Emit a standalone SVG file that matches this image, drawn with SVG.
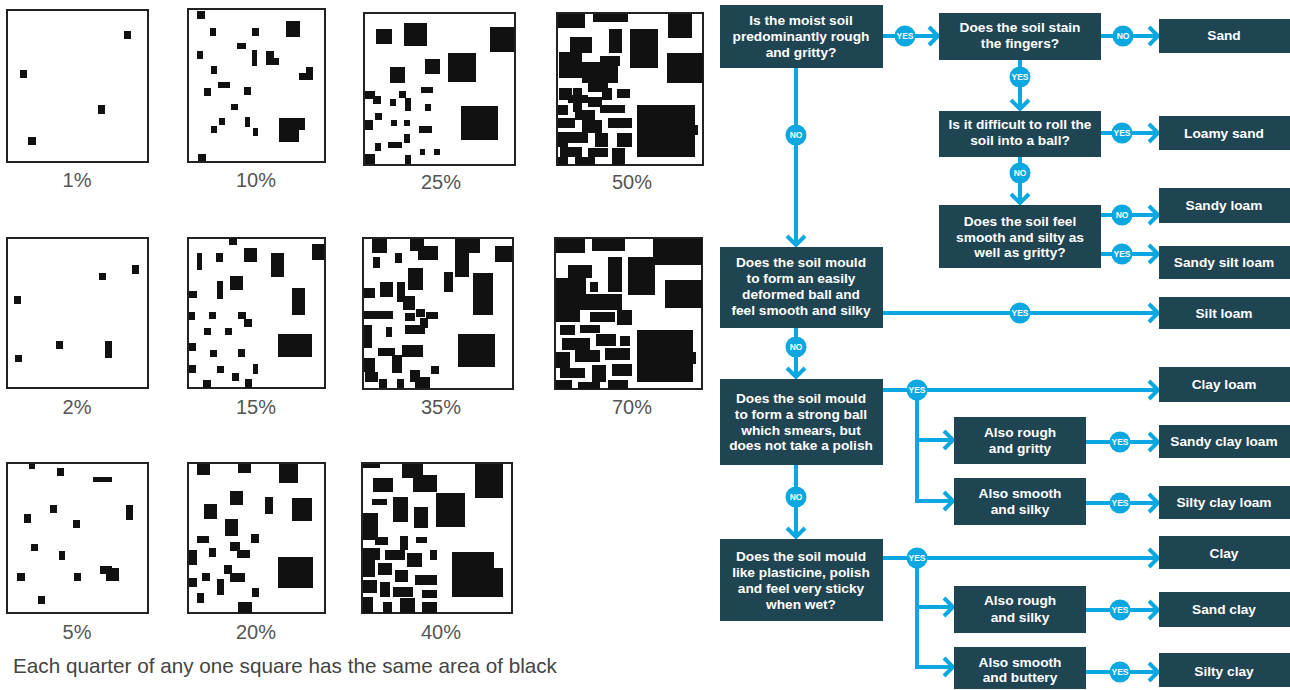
<svg xmlns="http://www.w3.org/2000/svg" width="1290" height="690" viewBox="0 0 1290 690">
<defs>
<style>
.sq{fill:#fff;stroke:#222;stroke-width:2}
.b rect{fill:#111}
.pct{font-family:"Liberation Sans",Arial,sans-serif;font-size:20px;fill:#555;text-anchor:middle}
.cap{font-family:"Liberation Sans",Arial,sans-serif;font-size:20.7px;fill:#444}
.box{fill:#1f4452}
.t{font-family:"Liberation Sans",Arial,sans-serif;font-weight:bold;font-size:13.7px;fill:#fff;text-anchor:middle}
.ln{fill:none;stroke:#0aa7e0;stroke-width:4}
.c{fill:#0aa7e0}
.ct{font-family:"Liberation Sans",Arial,sans-serif;font-weight:bold;font-size:8.5px;fill:#fff;text-anchor:middle}
</style>
<marker id="ah" markerUnits="userSpaceOnUse" markerWidth="20" markerHeight="28" viewBox="-14 -14 20 28" refX="0" refY="0" orient="auto" overflow="visible">
<path d="M-10,-9 L-1,0 L-10,9" fill="none" stroke="#0aa7e0" stroke-width="4"/>
</marker>
</defs>
<rect width="1290" height="690" fill="#fff"/>

<!-- Left: percentage charts -->
<g id="chart">
<g id="sq1"><rect class="sq" x="7" y="10" width="141" height="152"/>
<g class="b"><rect x="124" y="31" width="7" height="8"/><rect x="20" y="70" width="7" height="8"/><rect x="98" y="105" width="7" height="9"/><rect x="28" y="137" width="8" height="8"/></g>
<text class="pct" x="77" y="187">1%</text></g>

<g id="sq2"><rect class="sq" x="188" y="9" width="137" height="153"/>
<g class="b"><rect x="197" y="11" width="8" height="8"/><rect x="210" y="28" width="6" height="8"/><rect x="252" y="28" width="7" height="8"/><rect x="286" y="21" width="14" height="16"/><rect x="237" y="43" width="9" height="6"/><rect x="197" y="51" width="6" height="8"/><rect x="252" y="50" width="5" height="16"/><rect x="266" y="51" width="8" height="14"/><rect x="266" y="58" width="13" height="7"/><rect x="306" y="67" width="7" height="13"/><rect x="299" y="73" width="14" height="7"/><rect x="211" y="66" width="6" height="8"/><rect x="218" y="82" width="12" height="6"/><rect x="204" y="88" width="7" height="8"/><rect x="244" y="87" width="7" height="8"/><rect x="231" y="104" width="7" height="6"/><rect x="219" y="118" width="6" height="7"/><rect x="211" y="126" width="6" height="7"/><rect x="245" y="117" width="5" height="10"/><rect x="253" y="128" width="5" height="8"/><rect x="279" y="118" width="26" height="12"/><rect x="279" y="118" width="20" height="24"/><rect x="198" y="154" width="8" height="7"/></g>
<text class="pct" x="256" y="187">10%</text></g>

<g id="sq3"><rect class="sq" x="364" y="13" width="151" height="152"/>
<g class="b"><rect x="376" y="29" width="16" height="15"/><rect x="404" y="23" width="23" height="23"/><rect x="490" y="27" width="24" height="25"/><rect x="390" y="67" width="15" height="16"/><rect x="425" y="59" width="15" height="15"/><rect x="448" y="53" width="28" height="29"/><rect x="461" y="106" width="37" height="34"/><rect x="365" y="91" width="10" height="8"/><rect x="373" y="96" width="8" height="8"/><rect x="390" y="99" width="6" height="7"/><rect x="399" y="91" width="7" height="7"/><rect x="405" y="98" width="6" height="13"/><rect x="421" y="87" width="12" height="6"/><rect x="425" y="104" width="6" height="7"/><rect x="365" y="120" width="8" height="10"/><rect x="375" y="113" width="7" height="7"/><rect x="391" y="120" width="6" height="6"/><rect x="404" y="120" width="6" height="6"/><rect x="419" y="126" width="13" height="7"/><rect x="388" y="142" width="14" height="6"/><rect x="404" y="134" width="6" height="9"/><rect x="375" y="143" width="6" height="8"/><rect x="365" y="154" width="10" height="10"/><rect x="405" y="155" width="6" height="9"/><rect x="420" y="149" width="5" height="6"/><rect x="434" y="149" width="6" height="6"/></g>
<text class="pct" x="441" y="189">25%</text></g>

<g id="sq4"><rect class="sq" x="557" y="13" width="146" height="152"/>
<g class="b"><rect x="558" y="14" width="27" height="14"/><rect x="593" y="14" width="35" height="8"/><rect x="668" y="14" width="24" height="24"/><rect x="570" y="37" width="22" height="16"/><rect x="609" y="29" width="13" height="24"/><rect x="630" y="29" width="28" height="39"/><rect x="667" y="53" width="36" height="30"/><rect x="559" y="52" width="23" height="26"/><rect x="582" y="62" width="36" height="21"/><rect x="600" y="56" width="20" height="10"/><rect x="588" y="80" width="20" height="12"/><rect x="637" y="105" width="58" height="52"/><rect x="693" y="125" width="5" height="10"/><rect x="559" y="88" width="13" height="12"/><rect x="568" y="95" width="20" height="8"/><rect x="573" y="88" width="9" height="24"/><rect x="588" y="97" width="14" height="10"/><rect x="602" y="88" width="10" height="12"/><rect x="617" y="89" width="13" height="9"/><rect x="558" y="105" width="10" height="10"/><rect x="575" y="110" width="20" height="10"/><rect x="600" y="105" width="25" height="8"/><rect x="558" y="118" width="17" height="10"/><rect x="582" y="120" width="20" height="13"/><rect x="608" y="118" width="24" height="10"/><rect x="558" y="132" width="10" height="15"/><rect x="568" y="132" width="20" height="11"/><rect x="595" y="133" width="13" height="14"/><rect x="617" y="133" width="15" height="14"/><rect x="560" y="147" width="22" height="10"/><rect x="588" y="148" width="20" height="9"/><rect x="612" y="148" width="13" height="17"/><rect x="558" y="157" width="10" height="8"/><rect x="575" y="157" width="20" height="8"/></g>
<text class="pct" x="632" y="189">50%</text></g>

<g id="sq5"><rect class="sq" x="7" y="238" width="141" height="150"/>
<g class="b"><rect x="132" y="265" width="7" height="9"/><rect x="99" y="273" width="7" height="7"/><rect x="14" y="296" width="7" height="8"/><rect x="56" y="341" width="7" height="8"/><rect x="105" y="341" width="7" height="17"/><rect x="15" y="355" width="7" height="7"/></g>
<text class="pct" x="77" y="414">2%</text></g>

<g id="sq6"><rect class="sq" x="188" y="238" width="137" height="150"/>
<g class="b"><rect x="229" y="238" width="8" height="7"/><rect x="197" y="253" width="5" height="17"/><rect x="216" y="253" width="7" height="9"/><rect x="244" y="248" width="13" height="14"/><rect x="271" y="253" width="13" height="24"/><rect x="312" y="244" width="12" height="16"/><rect x="217" y="281" width="6" height="18"/><rect x="230" y="276" width="13" height="14"/><rect x="189" y="291" width="8" height="7"/><rect x="292" y="288" width="13" height="27"/><rect x="189" y="312" width="6" height="8"/><rect x="209" y="312" width="7" height="7"/><rect x="238" y="312" width="8" height="7"/><rect x="244" y="319" width="8" height="8"/><rect x="204" y="328" width="7" height="7"/><rect x="225" y="328" width="7" height="7"/><rect x="278" y="334" width="34" height="23"/><rect x="189" y="343" width="7" height="8"/><rect x="210" y="350" width="7" height="7"/><rect x="238" y="349" width="7" height="8"/><rect x="189" y="365" width="7" height="8"/><rect x="217" y="366" width="7" height="7"/><rect x="253" y="364" width="5" height="10"/><rect x="232" y="373" width="7" height="8"/><rect x="203" y="380" width="8" height="8"/><rect x="245" y="379" width="7" height="9"/></g>
<text class="pct" x="256" y="414">15%</text></g>

<g id="sq7"><rect class="sq" x="363" y="238" width="150" height="151"/>
<g class="b"><rect x="372" y="239" width="15" height="14"/><rect x="395" y="253" width="7" height="10"/><rect x="373" y="257" width="7" height="11"/><rect x="410" y="239" width="14" height="12"/><rect x="418" y="246" width="20" height="14"/><rect x="455" y="239" width="25" height="14"/><rect x="455" y="253" width="14" height="24"/><rect x="495" y="246" width="17" height="16"/><rect x="408" y="268" width="15" height="22"/><rect x="380" y="282" width="13" height="15"/><rect x="364" y="288" width="11" height="10"/><rect x="397" y="282" width="8" height="20"/><rect x="403" y="296" width="12" height="14"/><rect x="444" y="272" width="9" height="20"/><rect x="473" y="273" width="20" height="42"/><rect x="364" y="311" width="29" height="8"/><rect x="405" y="313" width="10" height="8"/><rect x="416" y="309" width="9" height="8"/><rect x="426" y="312" width="12" height="7"/><rect x="405" y="325" width="20" height="9"/><rect x="420" y="318" width="8" height="10"/><rect x="386" y="327" width="6" height="10"/><rect x="364" y="325" width="8" height="23"/><rect x="458" y="334" width="37" height="33"/><rect x="378" y="348" width="17" height="8"/><rect x="402" y="345" width="21" height="12"/><rect x="392" y="355" width="10" height="18"/><rect x="364" y="358" width="11" height="14"/><rect x="379" y="379" width="8" height="9"/><rect x="410" y="370" width="10" height="12"/><rect x="415" y="377" width="15" height="11"/><rect x="431" y="366" width="8" height="8"/><rect x="397" y="379" width="7" height="9"/><rect x="365" y="372" width="13" height="10"/></g>
<text class="pct" x="441" y="414">35%</text></g>

<g id="sq8"><rect class="sq" x="555" y="238" width="147" height="151"/>
<g class="b"><rect x="556" y="239" width="29" height="14"/><rect x="592" y="239" width="33" height="12"/><rect x="653" y="239" width="49" height="26"/><rect x="568" y="265" width="24" height="13"/><rect x="608" y="257" width="14" height="35"/><rect x="628" y="257" width="27" height="38"/><rect x="665" y="280" width="37" height="28"/><rect x="556" y="278" width="30" height="27"/><rect x="590" y="282" width="8" height="10"/><rect x="575" y="294" width="47" height="16"/><rect x="556" y="300" width="24" height="22"/><rect x="590" y="312" width="25" height="10"/><rect x="617" y="310" width="15" height="15"/><rect x="637" y="330" width="56" height="52"/><rect x="690" y="352" width="6" height="12"/><rect x="560" y="325" width="15" height="10"/><rect x="580" y="325" width="20" height="8"/><rect x="562" y="338" width="28" height="12"/><rect x="596" y="334" width="20" height="12"/><rect x="620" y="336" width="10" height="10"/><rect x="556" y="352" width="14" height="16"/><rect x="575" y="350" width="25" height="12"/><rect x="605" y="348" width="25" height="12"/><rect x="560" y="368" width="25" height="10"/><rect x="592" y="365" width="14" height="17"/><rect x="612" y="364" width="20" height="12"/><rect x="556" y="380" width="16" height="9"/><rect x="578" y="382" width="22" height="7"/><rect x="608" y="380" width="20" height="9"/></g>
<text class="pct" x="632" y="414">70%</text></g>

<g id="sq9"><rect class="sq" x="7" y="463" width="141" height="150"/>
<g class="b"><rect x="29" y="464" width="6" height="5"/><rect x="57" y="468" width="7" height="8"/><rect x="93" y="477" width="19" height="5"/><rect x="50" y="505" width="7" height="8"/><rect x="24" y="514" width="7" height="9"/><rect x="126" y="505" width="7" height="15"/><rect x="73" y="520" width="7" height="8"/><rect x="31" y="544" width="7" height="7"/><rect x="59" y="551" width="6" height="9"/><rect x="100" y="566" width="12" height="8"/><rect x="106" y="568" width="13" height="13"/><rect x="17" y="573" width="8" height="8"/><rect x="74" y="573" width="7" height="8"/><rect x="38" y="596" width="7" height="8"/></g>
<text class="pct" x="77" y="639">5%</text></g>

<g id="sq10"><rect class="sq" x="188" y="463" width="137" height="150"/>
<g class="b"><rect x="197" y="464" width="13" height="11"/><rect x="238" y="464" width="13" height="9"/><rect x="279" y="464" width="19" height="19"/><rect x="230" y="491" width="13" height="14"/><rect x="204" y="504" width="13" height="15"/><rect x="265" y="497" width="8" height="17"/><rect x="292" y="498" width="20" height="23"/><rect x="225" y="519" width="13" height="17"/><rect x="197" y="536" width="12" height="7"/><rect x="251" y="534" width="8" height="9"/><rect x="189" y="550" width="8" height="15"/><rect x="209" y="548" width="7" height="9"/><rect x="230" y="542" width="10" height="9"/><rect x="237" y="550" width="13" height="8"/><rect x="278" y="557" width="35" height="31"/><rect x="202" y="573" width="8" height="8"/><rect x="224" y="565" width="8" height="9"/><rect x="230" y="573" width="15" height="9"/><rect x="189" y="578" width="8" height="9"/><rect x="217" y="579" width="7" height="16"/><rect x="252" y="588" width="7" height="9"/><rect x="197" y="593" width="7" height="10"/><rect x="238" y="602" width="14" height="11"/></g>
<text class="pct" x="256" y="639">20%</text></g>

<g id="sq11"><rect class="sq" x="362" y="463" width="150" height="150"/>
<g class="b"><rect x="363" y="464" width="17" height="4"/><rect x="402" y="464" width="21" height="14"/><rect x="413" y="475" width="24" height="17"/><rect x="475" y="464" width="28" height="34"/><rect x="373" y="478" width="20" height="14"/><rect x="372" y="499" width="15" height="6"/><rect x="393" y="497" width="15" height="25"/><rect x="414" y="507" width="14" height="21"/><rect x="436" y="493" width="29" height="34"/><rect x="363" y="513" width="15" height="27"/><rect x="375" y="537" width="13" height="8"/><rect x="400" y="536" width="8" height="14"/><rect x="416" y="537" width="11" height="6"/><rect x="452" y="552" width="42" height="45"/><rect x="490" y="568" width="13" height="29"/><rect x="363" y="548" width="17" height="12"/><rect x="385" y="550" width="20" height="10"/><rect x="407" y="553" width="15" height="14"/><rect x="430" y="550" width="7" height="10"/><rect x="363" y="560" width="12" height="17"/><rect x="378" y="563" width="14" height="12"/><rect x="395" y="570" width="13" height="12"/><rect x="415" y="575" width="22" height="10"/><rect x="363" y="580" width="14" height="13"/><rect x="380" y="582" width="10" height="15"/><rect x="393" y="587" width="20" height="10"/><rect x="422" y="590" width="15" height="8"/><rect x="363" y="597" width="10" height="16"/><rect x="383" y="602" width="9" height="11"/><rect x="400" y="598" width="15" height="15"/><rect x="422" y="602" width="15" height="11"/></g>
<text class="pct" x="441" y="639">40%</text></g>

<text class="cap" x="13" y="673">Each quarter of any one square has the same area of black</text>
</g>

<!-- Connectors -->
<g id="connectors">
<path class="ln" d="M883,36 H939" marker-end="url(#ah)"/>
<path class="ln" d="M1101,36 H1159" marker-end="url(#ah)"/>
<path class="ln" d="M1020,60 V110" marker-end="url(#ah)"/>
<path class="ln" d="M1101,133 H1159" marker-end="url(#ah)"/>
<path class="ln" d="M1020,157 V204" marker-end="url(#ah)"/>
<path class="ln" d="M1101,215 H1159" marker-end="url(#ah)"/>
<path class="ln" d="M1101,254 H1159" marker-end="url(#ah)"/>
<path class="ln" d="M796,68 V246" marker-end="url(#ah)"/>
<path class="ln" d="M883,313 H1159" marker-end="url(#ah)"/>
<path class="ln" d="M796,328 V378" marker-end="url(#ah)"/>
<path class="ln" d="M883,390 H1159" marker-end="url(#ah)"/>
<path class="ln" d="M917,390 V440 H954" marker-end="url(#ah)"/>
<path class="ln" d="M917,438 V501 H954" marker-end="url(#ah)"/>
<path class="ln" d="M1086,442 H1159" marker-end="url(#ah)"/>
<path class="ln" d="M1086,503 H1159" marker-end="url(#ah)"/>
<path class="ln" d="M796,465 V538" marker-end="url(#ah)"/>
<path class="ln" d="M883,558 H1159" marker-end="url(#ah)"/>
<path class="ln" d="M917,558 V607 H954" marker-end="url(#ah)"/>
<path class="ln" d="M917,605 V667 H954" marker-end="url(#ah)"/>
<path class="ln" d="M1086,610 H1159" marker-end="url(#ah)"/>
<path class="ln" d="M1086,672 H1159" marker-end="url(#ah)"/>
<g id="labels">
<circle class="c" cx="905" cy="36" r="10.5"/><text class="ct" x="905" y="39">YES</text>
<circle class="c" cx="1123" cy="36" r="10.5"/><text class="ct" x="1123" y="39">NO</text>
<circle class="c" cx="1020" cy="77" r="10.5"/><text class="ct" x="1020" y="80">YES</text>
<circle class="c" cx="1122" cy="133" r="10.5"/><text class="ct" x="1122" y="136">YES</text>
<circle class="c" cx="1020" cy="173" r="10.5"/><text class="ct" x="1020" y="176">NO</text>
<circle class="c" cx="1122" cy="215" r="10.5"/><text class="ct" x="1122" y="218">NO</text>
<circle class="c" cx="1122" cy="254" r="10.5"/><text class="ct" x="1122" y="257">YES</text>
<circle class="c" cx="796" cy="135" r="10.5"/><text class="ct" x="796" y="138">NO</text>
<circle class="c" cx="1020" cy="313" r="10.5"/><text class="ct" x="1020" y="316">YES</text>
<circle class="c" cx="796" cy="347" r="10.5"/><text class="ct" x="796" y="350">NO</text>
<circle class="c" cx="917" cy="390" r="10.5"/><text class="ct" x="917" y="393">YES</text>
<circle class="c" cx="1120" cy="442" r="10.5"/><text class="ct" x="1120" y="445">YES</text>
<circle class="c" cx="1120" cy="503" r="10.5"/><text class="ct" x="1120" y="506">YES</text>
<circle class="c" cx="796" cy="497" r="10.5"/><text class="ct" x="796" y="500">NO</text>
<circle class="c" cx="917" cy="558" r="10.5"/><text class="ct" x="917" y="561">YES</text>
<circle class="c" cx="1120" cy="610" r="10.5"/><text class="ct" x="1120" y="613">YES</text>
<circle class="c" cx="1120" cy="672" r="10.5"/><text class="ct" x="1120" y="675">YES</text>
</g>
</g>

<!-- Nodes -->
<g id="q1"><rect class="box" x="720" y="5" width="163" height="63"/><text class="t" x="801" y="25">Is the moist soil</text><text class="t" x="801" y="41">predominantly rough</text><text class="t" x="801" y="57">and gritty?</text></g>
<g id="q2"><rect class="box" x="939" y="13" width="162" height="47"/><text class="t" x="1020" y="32">Does the soil stain</text><text class="t" x="1020" y="48">the fingers?</text></g>
<g id="r-sand"><rect class="box" x="1159" y="19" width="131" height="34"/><text class="t" x="1224" y="40">Sand</text></g>
<g id="q3"><rect class="box" x="939" y="111" width="162" height="46"/><text class="t" x="1020" y="129">Is it difficult to roll the</text><text class="t" x="1020" y="145">soil into a ball?</text></g>
<g id="r-loamysand"><rect class="box" x="1159" y="116" width="131" height="34"/><text class="t" x="1224" y="138">Loamy sand</text></g>
<g id="q4"><rect class="box" x="939" y="205" width="162" height="63"/><text class="t" x="1020" y="226">Does the soil feel</text><text class="t" x="1020" y="242">smooth and silty as</text><text class="t" x="1020" y="257">well as gritty?</text></g>
<g id="r-sandyloam"><rect class="box" x="1159" y="188" width="131" height="35"/><text class="t" x="1224" y="210">Sandy loam</text></g>
<g id="r-sandysiltloam"><rect class="box" x="1159" y="246" width="131" height="33"/><text class="t" x="1224" y="267">Sandy silt loam</text></g>
<g id="q5"><rect class="box" x="720" y="247" width="163" height="81"/><text class="t" x="801" y="267">Does the soil mould</text><text class="t" x="801" y="283">to form an easily</text><text class="t" x="801" y="299">deformed ball and</text><text class="t" x="801" y="315">feel smooth and silky</text></g>
<g id="r-siltloam"><rect class="box" x="1159" y="297" width="131" height="32"/><text class="t" x="1224" y="318">Silt loam</text></g>
<g id="q6"><rect class="box" x="720" y="379" width="163" height="86"/><text class="t" x="801" y="403">Does the soil mould</text><text class="t" x="801" y="419">to form a strong ball</text><text class="t" x="801" y="435">which smears, but</text><text class="t" x="801" y="450">does not take a polish</text></g>
<g id="r-clayloam"><rect class="box" x="1159" y="367" width="131" height="35"/><text class="t" x="1224" y="389">Clay loam</text></g>
<g id="a1"><rect class="box" x="954" y="417" width="132" height="47"/><text class="t" x="1020" y="437">Also rough</text><text class="t" x="1020" y="453">and gritty</text></g>
<g id="r-sandyclayloam"><rect class="box" x="1159" y="425" width="131" height="33"/><text class="t" x="1224" y="446">Sandy clay loam</text></g>
<g id="a2"><rect class="box" x="954" y="478" width="132" height="47"/><text class="t" x="1020" y="498">Also smooth</text><text class="t" x="1020" y="514">and silky</text></g>
<g id="r-siltyclayloam"><rect class="box" x="1159" y="486" width="131" height="33"/><text class="t" x="1224" y="507">Silty clay loam</text></g>
<g id="q7"><rect class="box" x="720" y="539" width="163" height="82"/><text class="t" x="801" y="561">Does the soil mould</text><text class="t" x="801" y="577">like plasticine, polish</text><text class="t" x="801" y="593">and feel very sticky</text><text class="t" x="801" y="609">when wet?</text></g>
<g id="r-clay"><rect class="box" x="1159" y="536" width="131" height="33"/><text class="t" x="1224" y="558">Clay</text></g>
<g id="a3"><rect class="box" x="954" y="586" width="132" height="47"/><text class="t" x="1020" y="605">Also rough</text><text class="t" x="1020" y="622">and silky</text></g>
<g id="r-sandclay"><rect class="box" x="1159" y="592" width="131" height="35"/><text class="t" x="1224" y="614">Sand clay</text></g>
<g id="a4"><rect class="box" x="954" y="647" width="132" height="42"/><text class="t" x="1020" y="667">Also smooth</text><text class="t" x="1020" y="682">and buttery</text></g>
<g id="r-siltyclay"><rect class="box" x="1159" y="653" width="131" height="34"/><text class="t" x="1224" y="676">Silty clay</text></g>
</svg>
